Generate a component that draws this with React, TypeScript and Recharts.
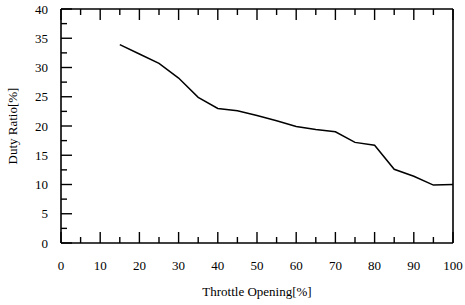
import React from 'react';
import { LineChart, Line, XAxis, YAxis, Label } from 'recharts';

// Throttle opening [%] vs. duty ratio [%]
const throttle = [15, 20, 25, 30, 35, 40, 45, 50, 55, 60, 65, 70, 75, 80, 85, 90, 95, 100];
const dutyRatio = [33.9, 32.3, 30.7, 28.2, 24.9, 23.0, 22.6, 21.8, 20.9, 19.9, 19.4, 19.0, 17.2, 16.7, 12.6, 11.4, 9.9, 10.0];

const xTicks = [0, 5, 10, 15, 20, 25, 30, 35, 40, 45, 50, 55, 60, 65, 70, 75, 80, 85, 90, 95, 100];
const yTicks = [0, 2.5, 5, 7.5, 10, 12.5, 15, 17.5, 20, 22.5, 25, 27.5, 30, 32.5, 35, 37.5, 40];

const data = throttle.map((t, i) => ({ throttle: t, duty: dutyRatio[i] }));

const FONT = "'Liberation Serif', 'Times New Roman', serif";

const isMajorX = (v: number) => v % 10 === 0;
const isMajorY = (v: number) => v % 5 === 0;

const BottomTick = (props: any) => {
  const { x, y, payload } = props;
  const major = isMajorX(payload.value);
  return (
    <g>
      <line x1={x} y1={y} x2={x} y2={y - (major ? 11 : 6)} stroke="#000" strokeWidth={1.4} />
      {major && (
        <text x={x} y={y + 27} textAnchor="middle" fontSize={13} fontFamily={FONT} fill="#000">
          {payload.value}
        </text>
      )}
    </g>
  );
};

const TopTick = (props: any) => {
  const { x, y, payload } = props;
  const major = isMajorX(payload.value);
  return <line x1={x} y1={y} x2={x} y2={y + (major ? 11 : 6)} stroke="#000" strokeWidth={1.4} />;
};

const LeftTick = (props: any) => {
  const { x, y, payload } = props;
  const major = isMajorY(payload.value);
  return (
    <g>
      <line x1={x} y1={y} x2={x + (major ? 11 : 6)} y2={y} stroke="#000" strokeWidth={1.4} />
      {major && (
        <text x={x - 13} y={y + 4.5} textAnchor="end" fontSize={13} fontFamily={FONT} fill="#000">
          {payload.value}
        </text>
      )}
    </g>
  );
};

const RightTick = (props: any) => {
  const { x, y, payload } = props;
  const major = isMajorY(payload.value);
  return <line x1={x} y1={y} x2={x - (major ? 11 : 6)} y2={y} stroke="#000" strokeWidth={1.4} />;
};

const axisLine = { stroke: '#000', strokeWidth: 1.6 };

export default function App() {
  return (
    <div style={{ position: 'absolute', left: 0, top: 0, background: '#fff' }}>
      <LineChart width={465} height={305} data={data} margin={{ top: 8, right: 11, bottom: 0, left: 0 }}>
        <XAxis
          xAxisId="bottom"
          dataKey="throttle"
          type="number"
          domain={[0, 100]}
          ticks={xTicks}
          interval={0}
          height={62}
          tickSize={0}
          tickMargin={0}
          tickLine={false}
          axisLine={axisLine}
          tick={<BottomTick />}
        >
          <Label
            content={() => (
              <text x={257} y={296} textAnchor="middle" fontSize={13} fontFamily={FONT} fill="#000">
                Throttle Opening[%]
              </text>
            )}
          />
        </XAxis>
        <XAxis
          xAxisId="top"
          orientation="top"
          dataKey="throttle"
          type="number"
          domain={[0, 100]}
          ticks={xTicks}
          interval={0}
          height={1}
          tickSize={0}
          tickMargin={0}
          tickLine={false}
          axisLine={axisLine}
          tick={<TopTick />}
        />
        <YAxis
          yAxisId="left"
          type="number"
          domain={[0, 40]}
          ticks={yTicks}
          interval={0}
          width={61}
          tickSize={0}
          tickMargin={0}
          tickLine={false}
          axisLine={axisLine}
          tick={<LeftTick />}
        >
          <Label
            content={() => (
              <text
                transform="translate(17,126) rotate(-90)"
                textAnchor="middle"
                fontSize={13}
                fontFamily={FONT}
                fill="#000"
              >
                Duty Ratio[%]
              </text>
            )}
          />
        </YAxis>
        <YAxis
          yAxisId="right"
          orientation="right"
          type="number"
          domain={[0, 40]}
          ticks={yTicks}
          interval={0}
          width={1}
          tickSize={0}
          tickMargin={0}
          tickLine={false}
          axisLine={axisLine}
          tick={<RightTick />}
        />
        <Line
          xAxisId="bottom"
          yAxisId="left"
          type="linear"
          dataKey="duty"
          stroke="#000"
          strokeWidth={1.5}
          dot={false}
          isAnimationActive={false}
        />
      </LineChart>
    </div>
  );
}
